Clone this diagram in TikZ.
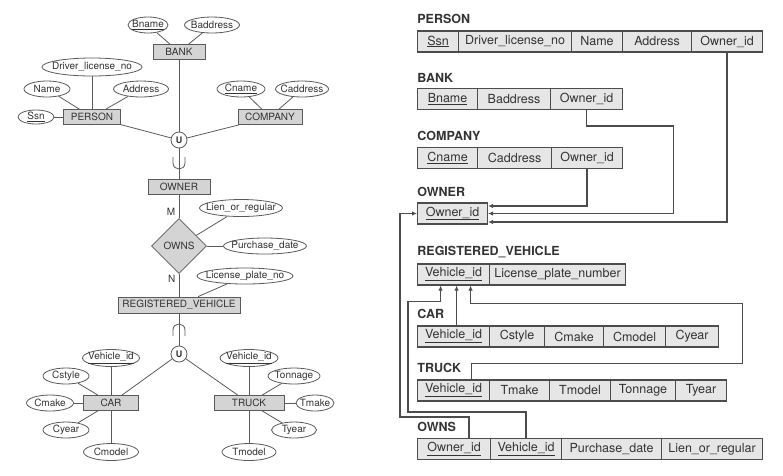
\documentclass[tikz,border=0pt]{standalone}
\usepackage{fontspec}
\setmainfont{TeX Gyre Heros}
\usetikzlibrary{arrows.meta,shapes.geometric,calc}

\definecolor{gris}{HTML}{D4D4D4}
\definecolor{grisclaro}{HTML}{E6E6E6}
\definecolor{trazo}{HTML}{5A5A5A}
\newcommand{\etiq}[1]{\makebox[0pt]{#1}}

\begin{document}
\begin{tikzpicture}[x=1pt,y=-1pt,line width=0.8pt,>={Latex[length=5pt,width=4.5pt]},
  er/.style={font=\fontsize{10}{12}\selectfont,text=black!80},
  entidad/.style={er,draw=trazo,fill=gris,minimum height=15pt,inner sep=0pt},
  atrib/.style={er,ellipse,draw=trazo,fill=white,minimum height=16pt,inner sep=0pt},
  union/.style={circle,draw=trazo,fill=white,minimum size=16pt,inner sep=0pt,text=black!80,font=\fontsize{9}{10}\selectfont\bfseries},
  rel/.style={er,diamond,draw=trazo,fill=gris,minimum width=55pt,minimum height=55pt,inner sep=0pt},
  enlace/.style={draw=trazo,line width=0.8pt},
  celda/.style={draw=black!70,fill=grisclaro,line width=1.1pt,minimum height=21pt,inner sep=0pt,anchor=west,font=\fontsize{12.5}{15}\selectfont,text=black!80},
  titulo/.style={anchor=west,inner sep=0pt,font=\fontsize{12.5}{15}\selectfont\bfseries,text=black!80},
  flecha/.style={->,draw=black!70,line width=1.2pt}]
  \useasboundingbox (0,0) rectangle (783,475);

  % esquema ER: propietarios
  \node[entidad,minimum width=52pt] (bank) at (179,52) {BANK};
  \node[atrib,minimum width=40pt] (bname) at (148,25) {\etiq{\underline{Bname}}};
  \node[atrib,minimum width=55pt] (baddr) at (212,25) {\etiq{Baddress}};
  \node[entidad,minimum width=57pt] (person) at (92,117) {PERSON};
  \node[atrib,minimum width=100pt,minimum height=18pt] (dlno) at (92,67) {\etiq{Driver\_license\_no}};
  \node[atrib,minimum width=46pt] (name) at (47,89) {\etiq{Name}};
  \node[atrib,minimum width=55pt] (addr) at (141,89) {\etiq{Address}};
  \node[atrib,minimum width=36pt,minimum height=14pt] (ssn) at (36,117) {\etiq{\underline{Ssn}}};
  \node[entidad,minimum width=64pt] (company) at (270,117) {COMPANY};
  \node[atrib,minimum width=48pt] (cname) at (241,89) {\etiq{\underline{Cname}}};
  \node[atrib,minimum width=53pt] (caddr) at (302,89) {\etiq{Caddress}};
  \node[union] (u1) at (179,140) {U};
  \node[entidad,minimum width=62pt] (owner) at (179,187) {OWNER};
  \draw[enlace] (bname) -- (bank);
  \draw[enlace] (baddr) -- (bank);
  \draw[enlace] (dlno) -- (person);
  \draw[enlace] (name) -- (person);
  \draw[enlace] (addr) -- (person);
  \draw[enlace] (ssn) -- (person);
  \draw[enlace] (cname) -- (company);
  \draw[enlace] (caddr) -- (company);
  \draw[enlace] (bank) -- (u1);
  \draw[enlace] (person) -- (u1);
  \draw[enlace] (company) -- (u1);
  \draw[enlace] (u1) -- (owner);
  \draw[enlace] (173,157) -- (173,163) .. controls (173,171) and (185,171) .. (185,163) -- (185,157);

  % relacion OWNS
  \node[rel] (owns) at (179,246) {OWNS};
  \node[atrib,minimum width=83pt,minimum height=17pt] (lien) at (241,208) {\etiq{Lien\_or\_regular}};
  \node[atrib,minimum width=83pt] (pdate) at (265,246) {\etiq{Purchase\_date}};
  \node[atrib,minimum width=96pt] (lpn) at (245,276) {\etiq{License\_plate\_no}};
  \node[entidad,minimum width=122pt,minimum height=16pt] (regveh) at (179,305) {REGISTERED\_VEHICLE};
  \draw[enlace] (owner) -- node[er,pos=0.72,left]{M} (owns);
  \draw[enlace] (owns) -- node[er,pos=0.2,left]{N} (regveh);
  \draw[enlace] (lien) -- (owns);
  \draw[enlace] (pdate) -- (owns);
  \draw[enlace] (lpn) -- (regveh);

  % vehiculos
  \node[union] (u2) at (179,354) {U};
  \node[entidad,minimum width=55pt] (car) at (111,403) {CAR};
  \node[atrib,minimum width=57pt,minimum height=17pt] (vidc) at (111,358) {\etiq{\underline{Vehicle\_id}}};
  \node[atrib,minimum width=46pt] (cstyle) at (66,376) {\etiq{Cstyle}};
  \node[atrib,minimum width=47pt] (cmake) at (50,403) {\etiq{Cmake}};
  \node[atrib,minimum width=46pt] (cyear) at (66,430) {\etiq{Cyear}};
  \node[atrib,minimum width=55pt,minimum height=17pt] (cmodel) at (111,452) {\etiq{Cmodel}};
  \node[entidad,minimum width=70pt] (truck) at (249,403) {TRUCK};
  \node[atrib,minimum width=58pt,minimum height=17pt] (vidt) at (249,358) {\etiq{\underline{Vehicle\_id}}};
  \node[atrib,minimum width=52pt] (tonnage) at (294,376) {\etiq{Tonnage}};
  \node[atrib,minimum width=38pt] (tmake) at (315,403) {\etiq{Tmake}};
  \node[atrib,minimum width=45pt] (tyear) at (294,430) {\etiq{Tyear}};
  \node[atrib,minimum width=54pt,minimum height=17pt] (tmodel) at (249,452) {\etiq{Tmodel}};
  \draw[enlace] (regveh) -- (u2);
  \draw[enlace] (173,336) -- (173,330) .. controls (173,322) and (185,322) .. (185,330) -- (185,336);
  \draw[enlace] (u2) -- (car);
  \draw[enlace] (u2) -- (truck);
  \draw[enlace] (vidc) -- (car);
  \draw[enlace] (cstyle) -- (car);
  \draw[enlace] (cmake) -- (car);
  \draw[enlace] (cyear) -- (car);
  \draw[enlace] (cmodel) -- (car);
  \draw[enlace] (vidt) -- (truck);
  \draw[enlace] (tonnage) -- (truck);
  \draw[enlace] (tmake) -- (truck);
  \draw[enlace] (tyear) -- (truck);
  \draw[enlace] (tmodel) -- (truck);

  % esquema relacional
  \node[titulo] (tperson) at (417,19) {PERSON};
  \node[celda,minimum width=41pt] (pssn) at (417,41.5) {\underline{Ssn}};
  \node[celda,minimum width=113pt] (pdln) at (458,41.5) {Driver\_license\_no};
  \node[celda,minimum width=51pt] (pname) at (571,41.5) {Name};
  \node[celda,minimum width=69pt] (paddr) at (622,41.5) {Address};
  \node[celda,minimum width=71pt] (powner) at (691,41.5) {Owner\_id};

  \node[titulo] (tbank) at (417,78) {BANK};
  \node[celda,minimum width=60pt] (bkname) at (417,99) {\underline{Bname}};
  \node[celda,minimum width=73pt] (bkaddr) at (477,99) {Baddress};
  \node[celda,minimum width=72pt] (bkowner) at (550,99) {Owner\_id};

  \node[titulo] (tcompany) at (417,136) {COMPANY};
  \node[celda,minimum width=60pt] (coname) at (417,158) {\underline{Cname}};
  \node[celda,minimum width=74pt] (coaddr) at (477,158) {Caddress};
  \node[celda,minimum width=71pt] (coowner) at (551,158) {Owner\_id};

  \node[titulo] (towner) at (417,192) {OWNER};
  \node[celda,minimum width=70pt] (owid) at (417,213.5) {\underline{Owner\_id}};

  \node[titulo] (tregveh) at (417,252) {REGISTERED\_VEHICLE};
  \node[celda,minimum width=72pt] (rvid) at (417,274.5) {\underline{Vehicle\_id}};
  \node[celda,minimum width=136pt] (rvlpn) at (489,274.5) {License\_plate\_number};

  \node[titulo] (tcar) at (417,314) {CAR};
  \node[celda,minimum width=72pt] (carvid) at (417,336.5) {\underline{Vehicle\_id}};
  \node[celda,minimum width=55pt] (carsty) at (489,336.5) {Cstyle};
  \node[celda,minimum width=59pt] (carmake) at (544,336.5) {Cmake};
  \node[celda,minimum width=62pt] (carmodel) at (603,336.5) {Cmodel};
  \node[celda,minimum width=53pt] (caryear) at (665,336.5) {Cyear};

  \node[titulo] (ttruck) at (417,368) {TRUCK};
  \node[celda,minimum width=72pt] (trvid) at (417,390.5) {\underline{Vehicle\_id}};
  \node[celda,minimum width=60pt] (trmake) at (489,390.5) {Tmake};
  \node[celda,minimum width=61pt] (trmodel) at (549,390.5) {Tmodel};
  \node[celda,minimum width=65pt] (trton) at (610,390.5) {Tonnage};
  \node[celda,minimum width=51pt] (tryear) at (675,390.5) {Tyear};

  \node[titulo] (towns) at (417,427) {OWNS};
  \node[celda,minimum width=73pt] (owowner) at (417,449) {\underline{Owner\_id}};
  \node[celda,minimum width=71pt] (owvid) at (490,449) {\underline{Vehicle\_id}};
  \node[celda,minimum width=100pt] (owdate) at (561,449) {Purchase\_date};
  \node[celda,minimum width=101pt] (owlien) at (661,449) {Lien\_or\_regular};

  % claves foraneas
  \draw[flecha] (powner.south) |- ($(owid.east)+(0,8.5)$);
  \draw[flecha] (bkowner.south) |- ++(87,16) |- (owid.east);
  \draw[flecha] (coowner.south) |- ($(owid.east)+(0,-7.5)$);
  \draw[flecha] ($(owowner.north)+(15,0)$) |- ++(-69,-21) |- (owid.west);
  \draw[flecha] (owvid.north) |- ++(-118,-26) |- ($(rvid.south)+(-13,16)$) -- ($(rvid.south)+(-13,0)$);
  \draw[flecha] ($(carvid.north)+(3,0)$) -- ($(rvid.south)+(3,0)$);
  \draw[flecha] ($(trvid.north)+(18,0)$) |- ++(271,-16) |- ($(rvid.south)+(17,18)$) -- ($(rvid.south)+(17,0)$);
\end{tikzpicture}
\end{document}
